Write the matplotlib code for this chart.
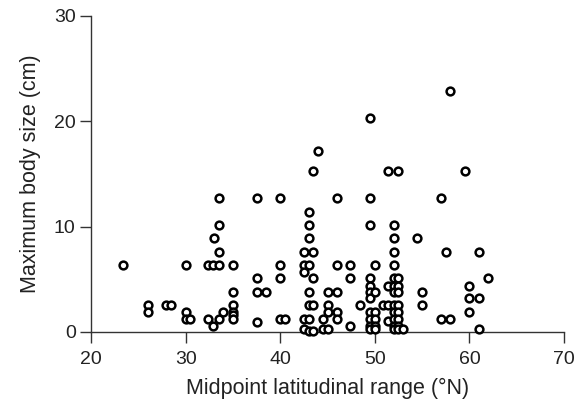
import numpy as np
import matplotlib
matplotlib.use("Agg")
import matplotlib.pyplot as plt

plt.rcParams['font.family'] = ['Liberation Sans', 'DejaVu Sans']

# midpoint latitude (deg N) and maximum body size (cm)
lat = [23.4,
       26.0, 26.0,
       27.9, 28.5,
       30.0, 30.0, 30.0, 30.5,
       32.4, 32.4, 32.9, 32.9, 33.0,
       33.5, 33.5, 33.5, 33.5, 33.5, 34.0,
       35.0, 35.0, 35.0, 35.0, 35.0, 35.0,
       37.5, 37.5, 37.5, 37.5, 38.5,
       40.0, 40.0, 40.0, 40.0, 40.5,
       42.5, 42.5, 42.5, 42.5, 42.5,
       43.0, 43.0, 43.0, 43.0, 43.0, 43.0, 43.0, 43.0,
       43.5, 43.5, 43.5, 43.5, 43.5,
       44.0, 44.5, 44.5,
       45.0, 45.0, 45.0, 45.0,
       46.0, 46.0, 46.0, 46.0, 46.0,
       47.4, 47.4, 47.4, 48.4,
       49.5, 49.5, 49.5, 49.5, 49.5, 49.5, 49.5, 49.5, 49.5, 49.5, 49.5,
       50.0, 50.0, 50.0, 50.0, 50.0, 50.0,
       50.9, 51.4, 51.4, 51.4, 51.4,
       52.0, 52.0, 52.0, 52.0, 52.0, 52.0, 52.0, 52.0, 52.0, 52.0, 52.0, 52.0,
       52.5, 52.5, 52.5, 52.5, 52.5, 52.5, 52.5, 52.5, 52.5,
       53.0, 54.5, 55.0, 55.0,
       57.0, 57.0, 57.5, 58.0, 58.0, 59.5,
       60.0, 60.0, 60.0, 61.0, 61.0, 61.0, 62.0]
size = [6.35,
        2.54, 1.9,
        2.54, 2.54,
        6.35, 1.9, 1.27, 1.27,
        6.35, 1.27, 6.35, 0.6, 8.89,
        12.7, 10.16, 7.62, 6.35, 1.27, 1.9,
        6.35, 3.81, 2.54, 1.9, 1.6, 1.27,
        12.7, 5.08, 3.81, 0.95, 3.81,
        12.7, 6.35, 5.08, 1.27, 1.27,
        7.62, 6.35, 5.67, 1.27, 0.3,
        11.43, 10.16, 8.89, 6.35, 3.81, 2.54, 1.27, 0.1,
        15.24, 7.62, 5.08, 2.54, 0.1,
        17.15, 1.27, 0.3,
        3.81, 2.54, 1.9, 0.3,
        12.7, 6.35, 3.81, 1.9, 1.27,
        6.35, 5.08, 0.6, 2.54,
        20.32, 12.7, 10.16, 5.08, 4.4, 3.81, 3.2, 1.9, 1.27, 0.6, 0.3,
        6.35, 3.81, 1.9, 1.27, 0.6, 0.3,
        2.54, 15.24, 4.4, 2.54, 1.0,
        10.16, 8.89, 7.62, 6.35, 5.08, 4.4, 3.81, 2.54, 1.9, 1.27, 0.6, 0.3,
        15.24, 5.08, 4.4, 3.81, 2.54, 1.9, 1.27, 0.6, 0.3,
        0.3, 8.89, 3.81, 2.54,
        12.7, 1.27, 7.62, 22.86, 1.27, 15.24,
        4.4, 3.2, 1.9, 7.62, 3.2, 0.3, 5.08]

x_ticks = [20, 30, 40, 50, 60, 70]
y_ticks = [0, 10, 20, 30]


def main():
    fig = plt.figure(figsize=(5.88, 4.07), dpi=100)
    ax = fig.add_axes([0.1548, 0.1843, 0.8044, 0.7764])

    ax.plot(lat, size, 'o', ls='none', mfc='white', mec='black',
            ms=5.6, mew=1.8, clip_on=False, zorder=3)

    ax.set_xlim(20, 70)
    ax.set_ylim(0, 30)
    ax.set_xticks(x_ticks)
    ax.set_yticks(y_ticks)

    for s in ['top', 'right']:
        ax.spines[s].set_visible(False)
    for s in ['left', 'bottom']:
        ax.spines[s].set_color('#333333')
        ax.spines[s].set_linewidth(1.0)

    ax.tick_params(axis='x', pad=6)
    ax.tick_params(direction='out', length=8, width=1.0, color='#333333',
                   labelsize=14, labelcolor='#222222')
    ax.tick_params(axis='y', pad=3)
    ax.set_xlabel('Midpoint latitudinal range (°N)', fontsize=15.5,
                  color='#222222', labelpad=7)
    ax.set_ylabel('Maximum body size (cm)', fontsize=15.5,
                  color='#222222', labelpad=9)

    fig.savefig('out.png', dpi=100)


if __name__ == "__main__":
    main()
